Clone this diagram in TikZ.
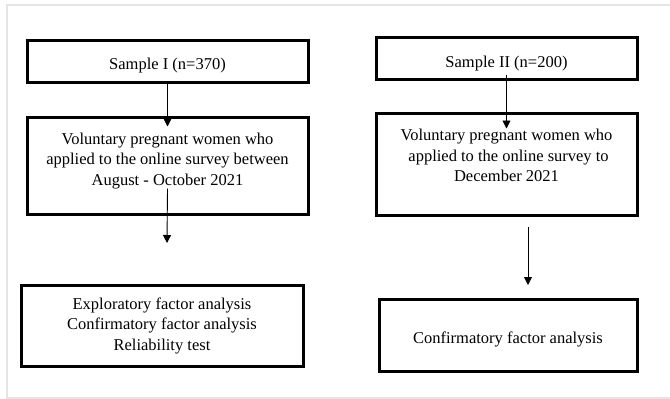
\documentclass[tikz,border=0pt]{standalone}
\usepackage{fontspec}
\setmainfont{Liberation Serif}
\usepackage{tikz}
\usetikzlibrary{arrows.meta}

\begin{document}
\begin{tikzpicture}[x=1pt, y=-1pt]
	\useasboundingbox (0,0) rectangle (670,399);
	% light frame of the figure
	\draw [gray!20, line width=1.5pt] (670,5) -- (7,5) -- (7,398) -- (670,398);
	\begin{scope}[every node/.style = {rectangle, draw, line width=3pt,
			align=center, font=\fontsize{16.5}{20.5}\selectfont, inner sep=2pt}]
		% sample I
		\node [minimum width=281pt, minimum height=42pt, text height=20pt] (SI) at (167.5,61) {Sample I (n=370)};
		\node [minimum width=281pt, minimum height=97pt] (VI) at (167.5,165.5)
			{Voluntary pregnant women who\\applied to the online survey between\\August - October 2021\\[-8pt]\mbox{}};
		\node [minimum width=282pt, minimum height=81pt] (AI) at (162,325.5)
			{Exploratory factor analysis\\Confirmatory factor analysis\\Reliability test};
		% sample II
		\node [minimum width=261pt, minimum height=42pt, text height=22pt] (SII) at (506.5,58) {Sample II (n=200)};
		\node [minimum width=261pt, minimum height=102pt] (VII) at (506.5,164)
			{Voluntary pregnant women who\\\ applied to the online survey to\\December 2021\\[-4pt]\mbox{}};
		\node [minimum width=258pt, minimum height=72pt, text height=21pt] (AII) at (508,335) {Confirmatory factor analysis};
	\end{scope}
	\coordinate (endI) at (167,243);
	\coordinate (startII) at (528,227);
	\coordinate (endII) at (528,285);
	\begin{scope}[>={Triangle[length=8pt, width=8pt]}, line width=0.9pt]
		\draw [->, shorten <=-2pt, shorten >=-11pt] (SI.south) -- (VI.north);
		\draw [->] ([yshift=27pt]VI.south) -- (endI);
		\draw [->, shorten <=-6pt, shorten >=-17pt] (SII.south) -- (VII.north);
		\draw [->] (startII) -- (endII);
	\end{scope}
\end{tikzpicture}
\end{document}
